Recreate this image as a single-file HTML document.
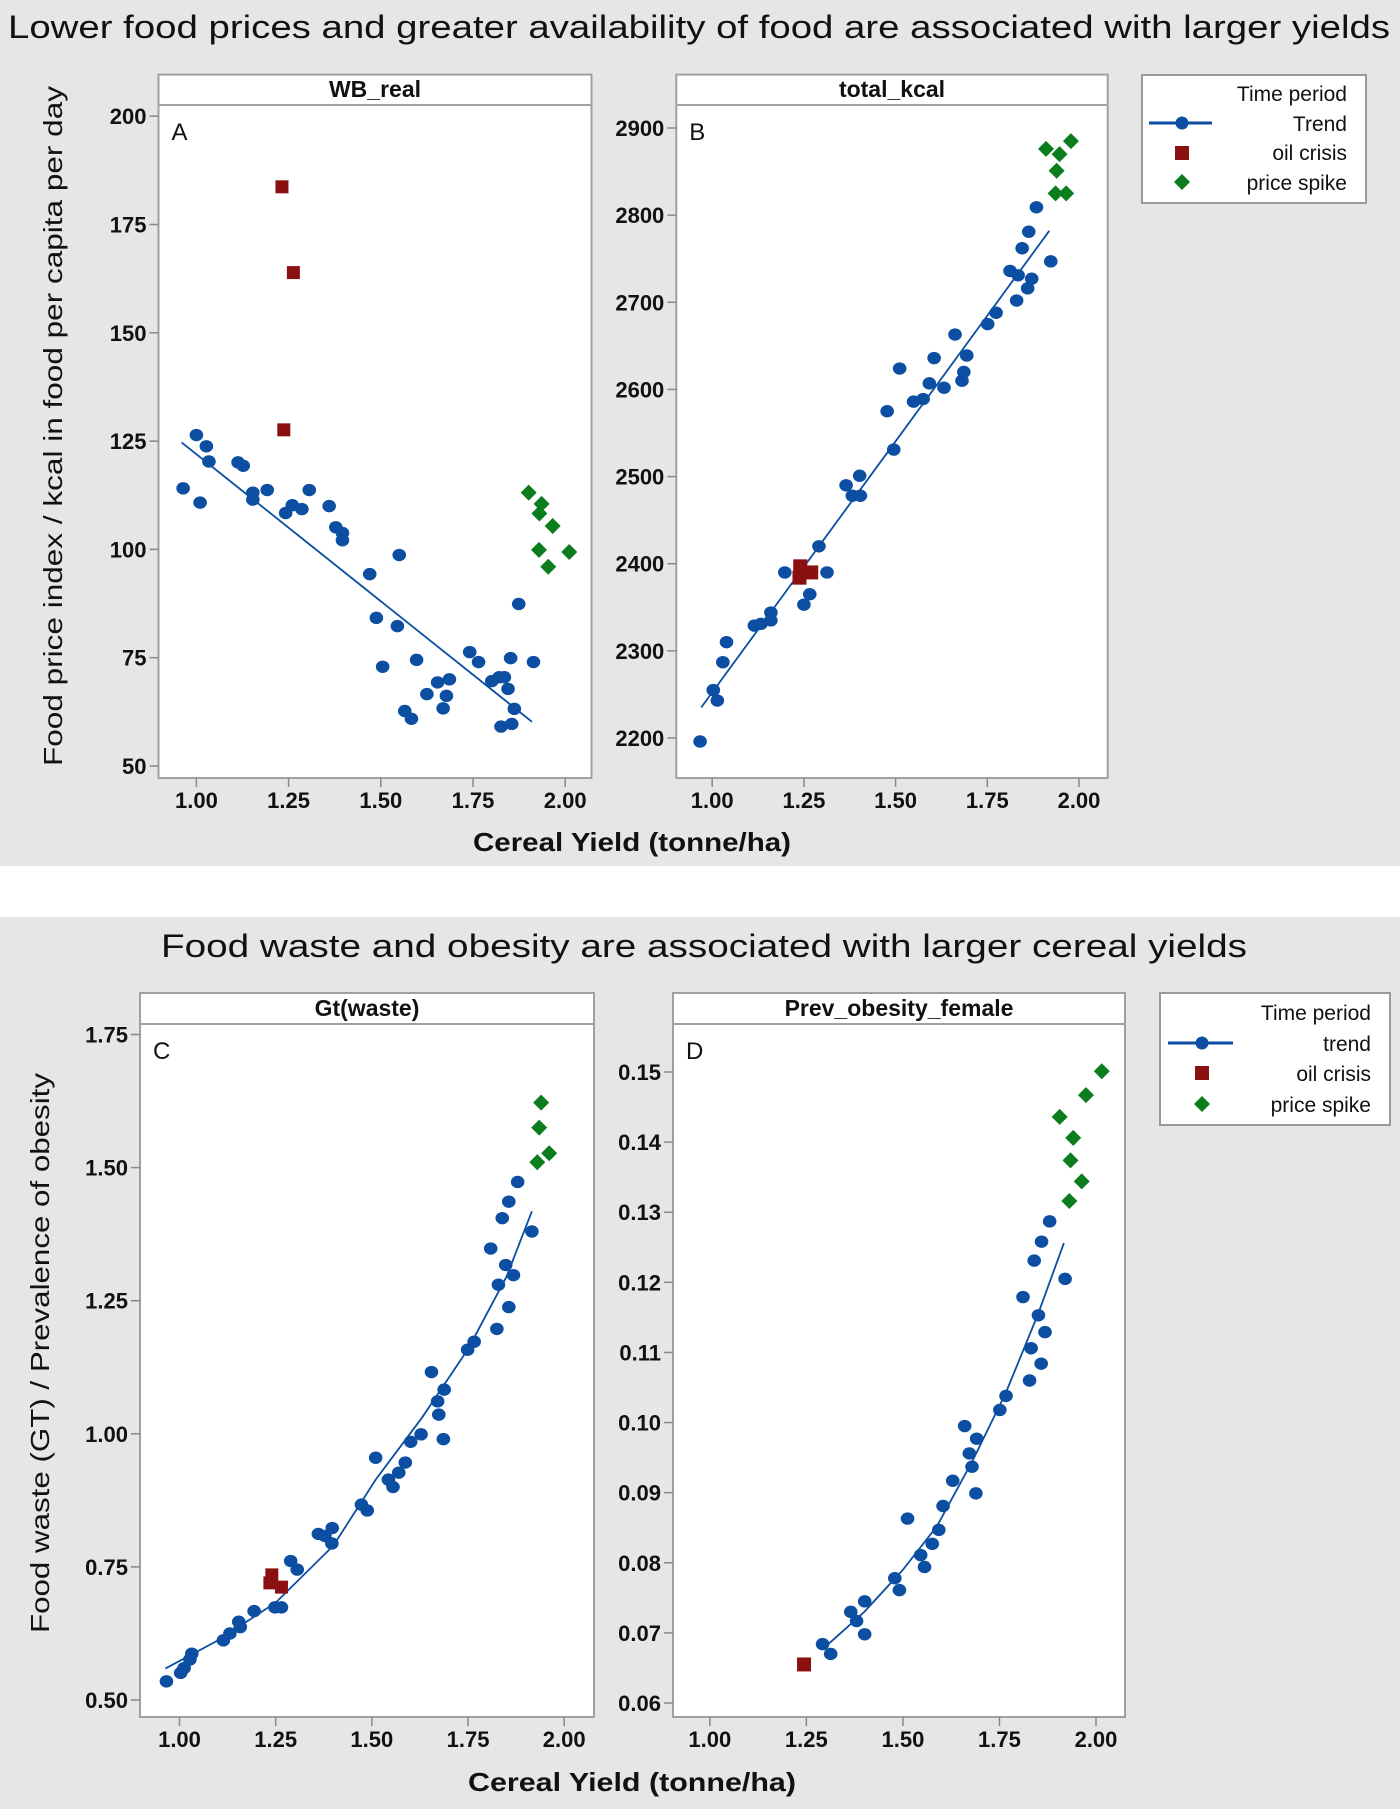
<!DOCTYPE html>
<html><head><meta charset="utf-8"><style>
html,body{margin:0;padding:0;background:#fff;}
svg{display:block;font-family:"Liberation Sans",sans-serif;}
</style></head><body>
<svg id="fig" width="1400" height="1809" viewBox="0 0 1400 1809">
<rect x="0" y="0" width="1400" height="866" fill="#e6e6e6"/>
<rect x="0" y="917" width="1400" height="892" fill="#e6e6e6"/>
<text x="699" y="38" text-anchor="middle" font-size="32" textLength="1382" lengthAdjust="spacingAndGlyphs" fill="#111">Lower food prices and greater availability of food are associated with larger yields</text>
<text x="704" y="957" text-anchor="middle" font-size="32" textLength="1086" lengthAdjust="spacingAndGlyphs" fill="#111">Food waste and obesity are associated with larger cereal yields</text>
<text x="632" y="851" text-anchor="middle" font-size="26" font-weight="bold" textLength="318" lengthAdjust="spacingAndGlyphs" fill="#111">Cereal Yield (tonne/ha)</text>
<text x="632" y="1791" text-anchor="middle" font-size="26" font-weight="bold" textLength="328" lengthAdjust="spacingAndGlyphs" fill="#111">Cereal Yield (tonne/ha)</text>
<text transform="translate(62,426) rotate(-90)" text-anchor="middle" font-size="26" textLength="680" lengthAdjust="spacingAndGlyphs" fill="#111">Food price index / kcal in food per capita per day</text>
<text transform="translate(49,1353) rotate(-90)" text-anchor="middle" font-size="26" textLength="560" lengthAdjust="spacingAndGlyphs" fill="#111">Food waste (GT) / Prevalence of obesity</text>

<g>
<rect x="1142" y="75" width="224" height="128" fill="#fff" stroke="#999" stroke-width="2"/>
<text x="1347" y="101" text-anchor="end" font-size="21" fill="#111">Time period</text>
<g><line x1="1149" y1="123" x2="1212" y2="123" stroke="#0b4ea2" stroke-width="3"/><circle cx="1182" cy="123" r="6.5" fill="#0b4ea2"/><text x="1347" y="131" text-anchor="end" font-size="21" fill="#111">Trend</text></g>
<g><rect x="1175" y="146" width="14" height="14" fill="#8b1010"/><text x="1347" y="160" text-anchor="end" font-size="21" fill="#111">oil crisis</text></g>
<g><path d="M1182 174 L1190 182 L1182 190 L1174 182Z" fill="#0b7d1c"/><text x="1347" y="190" text-anchor="end" font-size="21" fill="#111">price spike</text></g>
</g>
<g>
<rect x="1160" y="993" width="230" height="132" fill="#fff" stroke="#999" stroke-width="2"/>
<text x="1371" y="1020" text-anchor="end" font-size="21" fill="#111">Time period</text>
<g><line x1="1168" y1="1043" x2="1233" y2="1043" stroke="#0b4ea2" stroke-width="3"/><circle cx="1202" cy="1043" r="6.5" fill="#0b4ea2"/><text x="1371" y="1051" text-anchor="end" font-size="21" fill="#111">trend</text></g>
<g><rect x="1195" y="1066" width="14" height="14" fill="#8b1010"/><text x="1371" y="1081" text-anchor="end" font-size="21" fill="#111">oil crisis</text></g>
<g><path d="M1202 1096 L1210 1104 L1202 1112 L1194 1104Z" fill="#0b7d1c"/><text x="1371" y="1112" text-anchor="end" font-size="21" fill="#111">price spike</text></g>
</g>
</svg>
<script>
// ---- Panel A: WB_real ----
const aTicksY = [50, 75, 100, 125, 150, 175, 200];
const xTicks = [1.00, 1.25, 1.50, 1.75, 2.00];
const aBlueX = [0.964,1.0,1.01,1.027,1.034,1.113,1.127,1.153,1.153,1.192,1.242,1.26,1.286,1.306,1.36,1.378,1.396,1.396,1.47,1.488,1.505,1.545,1.55,1.565,1.583,1.597,1.625,1.654,1.669,1.678,1.686,1.741,1.765,1.801,1.821,1.835,1.845,1.826,1.855,1.852,1.862,1.874,1.914];
const aBlueY = [114.1,126.4,110.8,123.8,120.3,120.1,119.3,113.1,111.5,113.7,108.4,110.2,109.3,113.7,110.0,105.1,103.8,102.1,94.3,84.2,72.9,82.3,98.7,62.7,60.9,74.5,66.6,69.3,63.3,66.2,70.0,76.3,74.0,69.6,70.5,70.5,67.8,59.1,59.7,74.9,63.2,87.4,74.0];
const aRedX = [1.232,1.263,1.237];
const aRedY = [183.7,163.9,127.6];
const aGreenX = [1.901,1.936,1.93,1.966,1.929,1.954,2.011];
const aGreenY = [113.1,110.5,108.3,105.4,99.9,96.0,99.4];
const aTrendX = [0.96,1.91];
const aTrendY = [124.7,60.2];
// ---- Panel B: total_kcal ----
const bTicksY = [2200,2300,2400,2500,2600,2700,2800,2900];
const bBlueX = [0.967,1.003,1.014,1.029,1.039,1.115,1.133,1.16,1.16,1.198,1.25,1.266,1.291,1.313,1.365,1.382,1.402,1.404,1.477,1.495,1.511,1.549,1.575,1.592,1.605,1.632,1.662,1.681,1.686,1.694,1.751,1.774,1.812,1.83,1.834,1.845,1.86,1.863,1.871,1.884,1.923];
const bBlueY = [2196,2255,2243,2287,2310,2329,2331,2344,2335,2390,2353,2365,2420,2390,2490,2478,2501,2478,2575,2531,2624,2586,2589,2607,2636,2602,2663,2610,2620,2639,2675,2688,2736,2702,2731,2762,2716,2781,2727,2809,2747];
const bRedX = [1.24,1.238,1.27];
const bRedY = [2397,2384,2390];
const bGreenX = [1.91,1.947,1.978,1.939,1.936,1.965];
const bGreenY = [2876,2870,2885,2851,2825,2825];
const bTrendX = [0.97,1.919];
const bTrendY = [2235,2782];
// ---- Panel C: Gt(waste) ----
const cTicksY = [0.50,0.75,1.00,1.25,1.50,1.75];
const cBlueX = [0.966,1.003,1.012,1.027,1.032,1.114,1.131,1.154,1.158,1.194,1.248,1.265,1.289,1.306,1.361,1.378,1.397,1.396,1.473,1.488,1.51,1.543,1.555,1.57,1.587,1.601,1.628,1.655,1.671,1.674,1.688,1.686,1.749,1.766,1.809,1.825,1.829,1.839,1.848,1.856,1.856,1.868,1.879,1.916];
const cBlueY = [0.535,0.551,0.560,0.576,0.587,0.612,0.625,0.647,0.637,0.667,0.674,0.674,0.761,0.745,0.812,0.808,0.823,0.794,0.867,0.856,0.955,0.914,0.900,0.927,0.946,0.985,0.999,1.116,1.061,1.036,1.083,0.990,1.158,1.173,1.348,1.197,1.280,1.405,1.317,1.436,1.238,1.298,1.473,1.380];
const cRedX = [1.24,1.235,1.265];
const cRedY = [0.735,0.72,0.712];
const cGreenX = [1.94,1.935,1.961,1.93];
const cGreenY = [1.622,1.575,1.527,1.51];
const cTrendX = [0.963,1.1,1.25,1.4,1.51,1.63,1.75,1.85,1.916];
const cTrendY = [0.559,0.612,0.683,0.790,0.914,1.03,1.159,1.295,1.418];
// ---- Panel D: Prev_obesity_female ----
const dTicksY = [0.06,0.07,0.08,0.09,0.10,0.11,0.12,0.13,0.14,0.15];
const dBlueX = [1.292,1.313,1.365,1.38,1.401,1.401,1.479,1.491,1.512,1.546,1.556,1.576,1.593,1.604,1.629,1.66,1.672,1.679,1.691,1.689,1.751,1.767,1.811,1.828,1.832,1.84,1.851,1.858,1.859,1.868,1.88,1.92];
const dBlueY = [0.0684,0.067,0.073,0.0717,0.0745,0.0698,0.0778,0.0761,0.0863,0.0811,0.0794,0.0827,0.0847,0.0881,0.0917,0.0995,0.0956,0.0937,0.0977,0.0899,0.1018,0.1038,0.1179,0.106,0.1106,0.1231,0.1153,0.1084,0.1258,0.1129,0.1287,0.1205];
const dRedX = [1.244];
const dRedY = [0.0655];
const dGreenX = [2.015,1.974,1.906,1.941,1.934,1.963,1.931];
const dGreenY = [0.1501,0.1467,0.1436,0.1406,0.1374,0.1344,0.1316];
const dTrendX = [1.297,1.4,1.5,1.588,1.68,1.767,1.85,1.917];
const dTrendY = [0.0679,0.0730,0.0790,0.0852,0.0945,0.1043,0.1155,0.1256];

const NS = "http://www.w3.org/2000/svg";
const svg = document.getElementById('fig');
function mk(tag, attrs, parent){ const e=document.createElementNS(NS,tag); for(const k in attrs) e.setAttribute(k,attrs[k]); (parent||svg).appendChild(e); return e; }
function lin(d0,d1,p0,p1){ return v => p0 + (v-d0)/(d1-d0)*(p1-p0); }

function panel(cfg){
  const g = mk('g',{});
  
  
  const L=cfg.box[0],T=cfg.box[1],R=cfg.box[2],B=cfg.box[3];
  const xs = lin(1,2,cfg.x1,cfg.x2);
  const ys = lin(cfg.yd0,cfg.yd1,cfg.yp0,cfg.yp1);
  const bg = mk('rect',{x:L,y:T,width:R-L,height:B-T,fill:'#fff',stroke:'#a0a0a0','stroke-width':2},g);
  
  
  const hl = mk('line',{x1:L,y1:cfg.hb,x2:R,y2:cfg.hb,stroke:'#a0a0a0','stroke-width':2},g);
  
  
  const ht = mk('text',{x:(L+R)/2,y:cfg.hb-8,'text-anchor':'middle','font-size':23,'font-weight':'bold',fill:'#111'},g);
  ht.textContent = cfg.header;
  
  
  const lt = mk('text',{x:L+13,y:cfg.hb+35,'font-size':24,fill:'#111'},g);
  lt.textContent = cfg.letter;
  
  
  cfg.yt.forEach(v=>{
    const y=ys(v);
    const tk = mk('line',{x1:L-9,y1:y,x2:L,y2:y,stroke:'#888','stroke-width':1.5},g);
    
    
    const tl = mk('text',{x:L-12,y:y+8,'text-anchor':'end','font-size':22,'font-weight':'bold',fill:'#111'},g);
    tl.textContent = v.toFixed(cfg.dec);
    
    
  });
  xTicks.forEach(v=>{
    const x=xs(v);
    const tk = mk('line',{x1:x,y1:B,x2:x,y2:B+9,stroke:'#888','stroke-width':1.5},g);
    
    
    const tl = mk('text',{x:x,y:B+30,'text-anchor':'middle','font-size':22,'font-weight':'bold',fill:'#111'},g);
    tl.textContent = v.toFixed(2);
    
    
  });
  const pts = cfg.tx.map((v,i)=>xs(v).toFixed(1)+','+ys(cfg.ty[i]).toFixed(1)).join(' ');
  const tr = mk('polyline',{points:pts,fill:'none',stroke:'#0b4ea2','stroke-width':1.8},g);
  
  
  cfg.bx.forEach((v,i)=>{
    const c = mk('ellipse',{cx:xs(v),cy:ys(cfg.by[i]),rx:6.8,ry:6.2,fill:'#0b4ea2'},g);
    
    
  });
  cfg.rx.forEach((v,i)=>{
    const s = cfg.rs;
    const r = mk('rect',{x:xs(v)-s/2,y:ys(cfg.ry[i])-s/2,width:s,height:s,fill:'#8b1010'},g);
    
    
  });
  cfg.gx.forEach((v,i)=>{
    const x=xs(v),y=ys(cfg.gy[i]);
    const d = mk('path',{d:`M${x} ${y-8} L${x+8} ${y} L${x} ${y+8} L${x-8} ${y}Z`,fill:'#0b7d1c'},g);
    
    
  });
}
panel({name:'panel-a-wb-real',header:'WB_real',letter:'A',box:[158.5,74.6,591.5,778],hb:105,x1:196.4,x2:565.2,yd0:200,yd1:50,yp0:116.2,yp1:766,yt:aTicksY,dec:0,bx:aBlueX,by:aBlueY,rx:aRedX,ry:aRedY,gx:aGreenX,gy:aGreenY,tx:aTrendX,ty:aTrendY,rs:13});
panel({name:'panel-b-total-kcal',header:'total_kcal',letter:'B',box:[676.3,74.6,1107.7,778],hb:105,x1:712.2,x2:1079,yd0:2900,yd1:2200,yp0:128,yp1:738,yt:bTicksY,dec:0,bx:bBlueX,by:bBlueY,rx:bRedX,ry:bRedY,gx:bGreenX,gy:bGreenY,tx:bTrendX,ty:bTrendY,rs:14});
panel({name:'panel-c-gt-waste',header:'Gt(waste)',letter:'C',box:[140,993,594,1717],hb:1024,x1:179.5,x2:564.2,yd0:1.75,yd1:0.5,yp0:1034.5,yp1:1700,yt:cTicksY,dec:2,bx:cBlueX,by:cBlueY,rx:cRedX,ry:cRedY,gx:cGreenX,gy:cGreenY,tx:cTrendX,ty:cTrendY,rs:13});
panel({name:'panel-d-prev-obesity-female',header:'Prev_obesity_female',letter:'D',box:[673,993,1125,1717],hb:1024,x1:709.8,x2:1096,yd0:0.15,yd1:0.06,yp0:1072,yp1:1703,yt:dTicksY,dec:2,bx:dBlueX,by:dBlueY,rx:dRedX,ry:dRedY,gx:dGreenX,gy:dGreenY,tx:dTrendX,ty:dTrendY,rs:14});
</script>
</body></html>
